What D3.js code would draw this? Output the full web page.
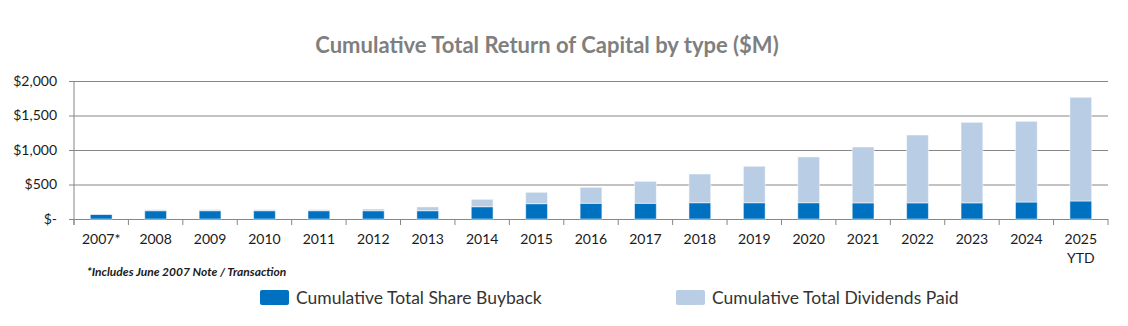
<!DOCTYPE html>
<html lang="en">
<head>
  <meta charset="utf-8">
  <title>Cumulative Total Return of Capital</title>
  <style>
    body {
      margin: 0;
      background: #ffffff;
      overflow: hidden;
    }

    text {
      font-family: Lato, "Noto Sans", sans-serif;
      fill: #1a1a1a;
    }

    .grid line {
      stroke: #868686;
      stroke-width: 1;
    }
  </style>
</head>
<body>

  <svg width="1128" height="326"></svg>
  <script src="https://cdnjs.cloudflare.com/ajax/libs/d3/7.8.5/d3.min.js"></script>
  <script>

  // chart values ($M)
  var years = ["2007*", "2008", "2009", "2010", "2011", "2012", "2013", "2014", "2015", "2016",
               "2017", "2018", "2019", "2020", "2021", "2022", "2023", "2024", "2025 YTD"];
  var buyback = [67, 120, 120, 120, 120, 120, 120, 178, 222, 228,
                 228, 236, 236, 236, 234, 234, 234, 246, 261];
  var dividends = [3, 15, 15, 15, 15, 25, 55, 107, 165, 231,
                   318, 416, 528, 663, 809, 983, 1167, 1170, 1503];
  var yTicks = [0, 500, 1000, 1500, 2000];
  var yTickLabels = ["$-", "$500", "$1,000", "$1,500", "$2,000"];
  var seriesNames = ["Cumulative Total Share Buyback", "Cumulative Total Dividends Paid"];
  var seriesColors = ["#0070c0", "#b9cde5"];

  var svg = d3.select("svg");

  var plotLeft = 74, plotRight = 1108, plotTop = 81, plotBottom = 219;

  var x = d3.scaleBand()
      .domain(years)
      .range([plotLeft, plotRight])
      .paddingInner(0.6)
      .paddingOuter(0.3);

  var y = d3.scaleLinear()
      .domain([0, 2000])
      .range([plotBottom, plotTop]);

  // title
  svg.append("text")
      .attr("x", 547)
      .attr("y", 53)
      .attr("text-anchor", "middle")
      .style("font-size", "22px")
      .style("font-weight", "bold")
      .style("fill", "#7f7f7f")
      .text("Cumulative Total Return of Capital by type ($M)");

  // gridlines + y labels
  var yAxis = svg.append("g")
      .attr("class", "grid")
      .attr("transform", "translate(" + plotLeft + ",0)")
      .call(d3.axisLeft(y)
        .tickValues(yTicks)
        .tickSize(-(plotRight - plotLeft))
        .tickPadding(17)
        .tickFormat(function(d, i) { return yTickLabels[i]; }));
  yAxis.select(".domain").remove();
  yAxis.selectAll("text")
      .style("font-size", "14px")
      .style("fill", "#1a1a1a");

  // small outer ticks on the left
  yAxis.selectAll(".tick").append("line")
      .attr("x1", -5).attr("x2", 0)
      .attr("stroke", "#868686");

  // left axis line
  svg.append("line")
      .attr("x1", plotLeft).attr("x2", plotLeft)
      .attr("y1", plotTop).attr("y2", plotBottom + 6)
      .attr("stroke", "#868686");

  // category boundary ticks
  var bounds = d3.range(years.length + 1).map(function(i) {
    return plotLeft + i * (plotRight - plotLeft) / years.length;
  });
  svg.append("g")
    .selectAll("line")
    .data(bounds)
    .enter().append("line")
      .attr("x1", function(d) { return d; })
      .attr("x2", function(d) { return d; })
      .attr("y1", plotBottom)
      .attr("y2", plotBottom + 6)
      .attr("stroke", "#868686");

  // stacked bars
  var table = years.map(function(yr, i) {
    return { year: yr, buyback: buyback[i], dividends: dividends[i] };
  });
  var layers = d3.stack().keys(["buyback", "dividends"])(table);

  svg.append("g")
    .selectAll("g")
    .data(layers)
    .enter().append("g")
      .attr("fill", function(d, i) { return seriesColors[i]; })
    .selectAll("rect")
    .data(function(d) { return d; })
    .enter().append("rect")
      .attr("x", function(d) { return x(d.data.year); })
      .attr("width", x.bandwidth())
      .attr("y", function(d) { return y(d[1]); })
      .attr("height", function(d) { return y(d[0]) - y(d[1]); })
      .attr("stroke", "rgba(255,255,255,0.5)")
      .attr("stroke-width", 1);

  // x labels
  var xl = svg.append("g")
    .selectAll("text")
    .data(years)
    .enter().append("text")
      .attr("x", function(d) { return x(d) + x.bandwidth() / 2; })
      .attr("y", 244)
      .attr("text-anchor", "middle")
      .style("font-size", "14px");
  xl.each(function(d) {
    var t = d3.select(this);
    d.split(" ").forEach(function(p, k) {
      t.append("tspan")
        .attr("x", t.attr("x"))
        .attr("dy", k === 0 ? 0 : 19)
        .text(p);
    });
  });

  // footnote
  svg.append("text")
      .attr("x", 87)
      .attr("y", 276)
      .style("font-size", "12px")
      .style("font-style", "italic")
      .style("font-weight", "bold")
      .text("*Includes June 2007 Note / Transaction");

  // legend
  var legendX = [260, 676];
  var lg = svg.append("g")
    .selectAll("g")
    .data(seriesNames)
    .enter().append("g")
      .attr("transform", function(d, i) { return "translate(" + legendX[i] + ",290)"; });
  lg.append("rect")
      .attr("width", 29)
      .attr("height", 15)
      .attr("rx", 2)
      .attr("fill", function(d, i) { return seriesColors[i]; });
  lg.append("text")
      .attr("x", 36)
      .attr("y", 14)
      .style("font-size", "17.5px")
      .style("fill", "#333")
      .text(function(d) { return d; });

  </script>

</body>
</html>
